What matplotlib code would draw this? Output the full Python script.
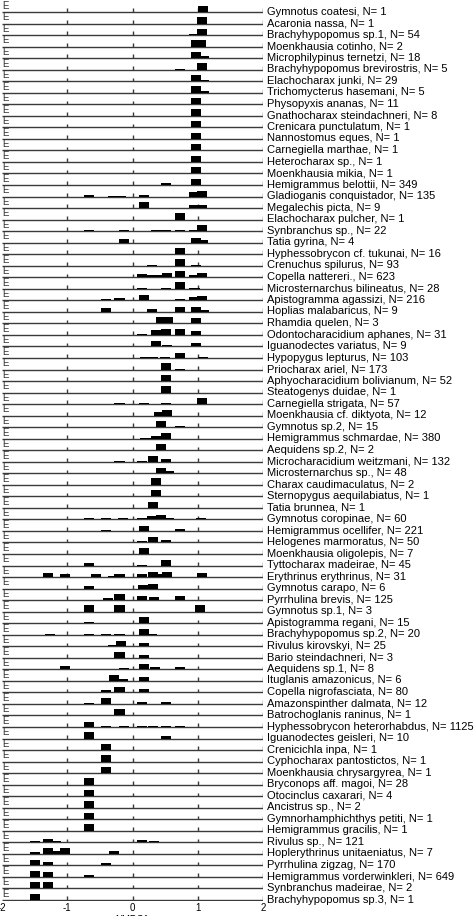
import matplotlib
matplotlib.use("Agg")
import matplotlib.pyplot as plt
import numpy as np

plt.rcParams['font.family'] = ['Liberation Sans', 'DejaVu Sans']

species = [
    "Gymnotus coatesi", "Acaronia nassa", "Brachyhypopomus sp.1", "Moenkhausia cotinho",
    "Microphilypinus ternetzi", "Brachyhypopomus brevirostris", "Elachocharax junki",
    "Trichomycterus hasemani", "Physopyxis ananas", "Gnathocharax steindachneri",
    "Crenicara punctulatum", "Nannostomus eques", "Carnegiella marthae", "Heterocharax sp.",
    "Moenkhausia mikia", "Hemigrammus belottii", "Gladioganis conquistador", "Megalechis picta",
    "Elachocharax pulcher", "Synbranchus sp.", "Tatia gyrina", "Hyphessobrycon cf. tukunai",
    "Crenuchus spilurus", "Copella nattereri.", "Microsternarchus bilineatus",
    "Apistogramma agassizi", "Hoplias malabaricus", "Rhamdia quelen",
    "Odontocharacidium aphanes", "Iguanodectes variatus", "Hypopygus lepturus",
    "Priocharax ariel", "Aphyocharacidium bolivianum", "Steatogenys duidae",
    "Carnegiella strigata", "Moenkhausia cf. diktyota", "Gymnotus sp.2",
    "Hemigrammus schmardae", "Aequidens sp.2", "Microcharacidium weitzmani",
    "Microsternarchus sp.", "Charax caudimaculatus", "Sternopygus aequilabiatus",
    "Tatia brunnea", "Gymnotus coropinae", "Hemigrammus ocellifer", "Helogenes marmoratus",
    "Moenkhausia oligolepis", "Tyttocharax madeirae", "Erythrinus erythrinus",
    "Gymnotus carapo", "Pyrrhulina brevis", "Gymnotus sp.1", "Apistogramma regani",
    "Brachyhypopomus sp.2", "Rivulus kirovskyi", "Bario steindachneri", "Aequidens sp.1",
    "Ituglanis amazonicus", "Copella nigrofasciata", "Amazonspinther dalmata",
    "Batrochoglanis raninus", "Hyphessobrycon heterorhabdus", "Iguanodectes geisleri",
    "Crenicichla inpa", "Cyphocharax pantostictos", "Moenkhausia chrysargyrea",
    "Bryconops aff. magoi", "Otocinclus caxarari", "Ancistrus sp.",
    "Gymnorhamphichthys petiti", "Hemigrammus gracilis", "Rivulus sp.",
    "Hoplerythrinus unitaeniatus", "Pyrrhulina zigzag", "Hemigrammus vorderwinkleri",
    "Synbranchus madeirae", "Brachyhypopomus sp.3",
]

n_obs = [1, 1, 54, 2, 18, 5, 29, 5, 11, 8, 1, 1, 1, 1, 1, 349, 135, 9, 1, 22, 4, 16, 93,
         623, 28, 216, 9, 3, 31, 9, 103, 173, 52, 1, 57, 12, 15, 380, 2, 132, 48, 2, 1, 1,
         60, 221, 50, 7, 45, 31, 6, 125, 3, 15, 20, 25, 3, 8, 6, 80, 12, 1, 1125, 10, 1, 1,
         1, 28, 4, 2, 1, 1, 121, 7, 170, 649, 2, 1]

# NMDS1 bin centres per species
bin_centers = [
    [1.08], [1.06], [0.94, 1.06], [0.97, 1.05], [0.97, 1.10], [0.73, 1.06], [0.97, 1.10],
    [0.97, 1.10], [0.97], [0.97], [0.97], [0.97], [0.97], [0.97], [0.97],
    [0.51, 0.97],
    [-0.66, -0.30, -0.17, 0.17, 0.95, 1.07],
    [0.17, 0.95, 1.06],
    [0.73],
    [-0.66, -0.13, 0.36, 0.51, 0.73, 0.95, 1.06],
    [-0.13, 0.97, 1.08],
    [0.30, 0.73],
    [0.30, 0.73, 0.97],
    [0.15, 0.30, 0.40, 0.53, 0.73, 0.95, 1.06],
    [0.15, 0.51, 0.73, 0.95],
    [-1.20, -0.66, -0.41, -0.20, 0.18, 0.36, 0.51, 0.73, 0.95, 1.06],
    [-0.41, 0.30, 0.73, 0.97, 1.10],
    [0.43, 0.55, 0.97],
    [0.15, 0.36, 0.51, 0.73, 0.97],
    [0.36, 0.53, 0.97],
    [0.20, 0.32, 0.50, 0.73, 1.08],
    [0.51, 0.73],
    [0.51], [0.51],
    [-0.41, -0.20, 0.18, 0.33, 0.51, 0.96, 1.06],
    [0.41, 0.53],
    [0.43, 0.73],
    [0.20, 0.36, 0.51],
    [0.43],
    [-0.20, 0.15, 0.31, 0.51],
    [-1.25, 0.30, 0.43, 0.56],
    [0.36], [0.36], [0.31],
    [-0.66, -0.41, -0.15, 0.15, 0.30, 0.43, 0.56, 0.73, 1.05],
    [-0.66, -0.41, 0.18, 0.73],
    [-1.27, -0.66, -0.41, -0.20, 0.15, 0.31, 0.51],
    [0.18],
    [-0.66, 0.15, 0.51],
    [-1.30, -1.04, -0.56, -0.30, -0.20, 0.15, 0.31, 0.42, 0.53, 1.06],
    [-0.66, 0.16, 0.31],
    [-1.20, -0.55, -0.38, -0.20, 0.15, 0.33, 0.51, 0.73, 1.00],
    [-0.66, -0.20, 1.03],
    [-0.66, 0.18],
    [-1.27, -0.66, -0.40, -0.20, 0.18, 0.30],
    [-0.30, -0.18, 0.18, 0.43, 0.51, 0.73],
    [-0.20, 0.18],
    [-1.04, -0.13, 0.18, 0.35, 0.73],
    [-0.28, -0.15, 0.18],
    [-0.55, -0.41, -0.20, 0.18],
    [-0.66, -0.41, 0.15, 0.51],
    [-0.20],
    [-0.66, -0.41, -0.13, 0.15, 0.31, 0.51, 0.73],
    [-0.66, 0.51],
    [-0.41], [-0.41], [-0.41],
    [-0.66], [-0.66], [-0.66], [-0.66], [-0.66],
    [-1.50, -1.30, -1.17, -1.04, -0.40, -0.20, 0.15, 0.33, 0.51, 0.73, 1.06],
    [-1.50, -1.30, -1.17, -1.03, -0.28],
    [-1.50, -1.30, -1.04, -0.66, -0.41],
    [-1.50, -1.30, -1.04, -0.66, -0.41],
    [-1.50, -1.30],
    [-1.50],
]

# relative frequency of each bin (tallest = 1)
bin_heights = [
    [1], [1], [0.2, 1], [1, 1], [1, 0.3], [0.15, 1], [1, 0.12],
    [1, 0.25], [1], [1], [1], [1], [1], [1], [1],
    [0.35, 1],
    [0.2, 0.08, 0.08, 0.25, 0.65, 0.9],
    [0.9, 0.5, 0.5],
    [1],
    [0.1, 0.1, 0.15, 0.15, 0.1, 0.1, 1],
    [0.55, 0.75, 0.35],
    [0.08, 1],
    [0.08, 1, 0.05],
    [0.45, 0.35, 0.4, 0.65, 1.0, 0.3, 0.65],
    [0.15, 0.15, 1, 0.05],
    [0.05, 0.08, 0.2, 0.35, 0.8, 0.05, 0.05, 0.15, 0.5, 0.75],
    [0.55, 0.4, 0.8, 0.7, 0.35],
    [1, 1, 0.9],
    [0.2, 0.75, 0.9, 0.95, 0.55],
    [0.9, 0.2, 0.6],
    [0.15, 0.15, 0.15, 0.85, 0.1],
    [1, 0.05],
    [1], [1],
    [0.05, 0.15, 0.2, 0.08, 0.2, 0.05, 0.95],
    [0.6, 0.9],
    [0.9, 0.2],
    [0.1, 0.4, 0.9],
    [1],
    [0.1, 0.05, 0.9, 0.5],
    [0.05, 0.1, 0.9, 0.3],
    [1], [1], [1],
    [0.3, 0.25, 0.25, 0.2, 0.5, 0.75, 0.15, 0.1, 0.25],
    [0.05, 0.1, 0.75, 0.25],
    [0.05, 0.08, 0.05, 0.05, 0.3, 0.9, 0.45],
    [0.9],
    [0.4, 0.05, 0.9],
    [0.65, 0.45, 0.45, 0.2, 0.45, 0.55, 0.75, 0.5, 0.8, 0.6],
    [0.4, 0.6, 0.8],
    [0.05, 0.1, 0.3, 0.95, 0.6, 0.5, 0.1, 0.6, 0.05],
    [1, 1, 1],
    [0.15, 1],
    [0.05, 0.05, 0.05, 0.05, 0.9, 0.1],
    [0.2, 0.85, 0.45, 0.05, 0.05, 0.05],
    [0.85, 0.45],
    [0.6, 0.25, 0.85, 0.3, 0.3],
    [0.85, 0.35, 0.6],
    [0.05, 0.4, 0.8, 0.5],
    [0.15, 0.95, 0.3, 0.3],
    [1],
    [0.85, 0.2, 0.1, 0.15, 0.1, 0.1, 0.1],
    [1, 0.35],
    [1], [1], [1],
    [1], [1], [1], [1], [1],
    [0.2, 0.6, 0.2, 0.1, 0.1, 0.1, 0.3, 0.25, 0.05, 0.05, 0.03],
    [0.3, 0.85, 0.45, 0.85, 0.5],
    [0.9, 0.6, 0.05, 0.1, 0.3],
    [0.9, 0.8, 0.05, 0.3, 0.05],
    [1, 1],
    [1],
]

x_ticks = [-2, -1, 0, 1, 2]
x_label = "NMDS1"

# ---------------- layout ----------------
W, H = 476, 916
fig = plt.figure(figsize=(W / 100, H / 100), dpi=100)
nrow = len(species)
top_pad, bot_pad = 0.8, 0.1
ax_top_px, ax_bot_px = 12 - top_pad * 11.532, 900 + bot_pad * 11.532
ax = fig.add_axes([2 / W, 1 - ax_bot_px / H, 261 / W, (ax_bot_px - ax_top_px) / H])
ax.set_xlim(-2, 2)
ax.set_ylim(-(nrow - 1) - bot_pad, top_pad)

bar_width = 0.155
bar_scale = 0.55
tick_h = 0.32
line_col = '#3a3a3a'

for i in range(nrow):
    base = -i
    ax.hlines(base, -2, 2, color=line_col, lw=1.0, zorder=2)
    ax.vlines([-1, 0, 1, 2], base, base + tick_h, color=line_col, lw=1.0, zorder=2)
    h = np.array(bin_heights[i]) * bar_scale
    ax.bar(bin_centers[i], h, width=bar_width, bottom=base, color='black',
           linewidth=0, zorder=3)
    ax.text(-1.99, base + 0.1, "E", fontsize=7, ha='left', va='bottom', color='#333333')

labels = [f"{s}, N= {n}" for s, n in zip(species, n_obs)]
ax.set_yticks([-i + 0.12 for i in range(nrow)])
ax.set_yticklabels(labels, fontsize=8)
ax.yaxis.tick_right()
ax.tick_params(axis='y', length=0, pad=3)

ax.set_xticks(x_ticks)
ax.set_xticklabels([str(t) for t in x_ticks], fontsize=7)
ax.tick_params(axis='x', length=0, pad=1)
for s in ax.spines.values():
    s.set_visible(False)

fig.text((2 + 261 / 2) / W, -0.0045, x_label, fontsize=7, ha='center', va='center')

fig.savefig("out.png", dpi=100)
